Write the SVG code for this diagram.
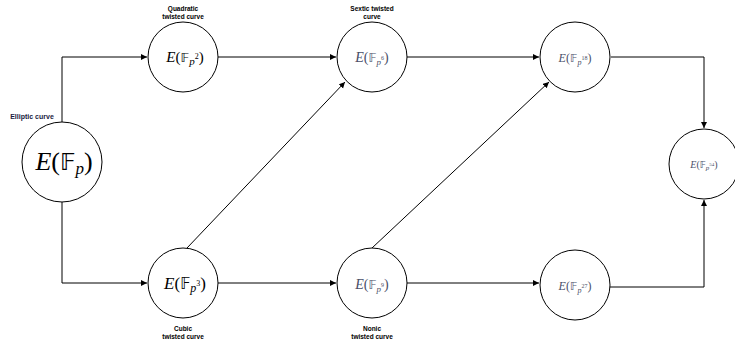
<svg xmlns="http://www.w3.org/2000/svg" width="735" height="346" viewBox="0 0 735 346">
<style>
.n{fill:#fff;stroke:#000;stroke-width:1}
.c{fill:none;stroke:#000;stroke-width:1}
.lbl{font-family:"Liberation Sans",Arial,sans-serif;font-size:6.5px;font-weight:bold;fill:#000;text-anchor:middle}
.m{font-family:"Liberation Serif","DejaVu Serif",serif;text-anchor:middle}
.g{fill:#4a5068}
.it{font-style:italic}
.bb{font-family:"DejaVu Sans",serif}
</style>
<defs>
<marker id="a" markerWidth="8" markerHeight="8" refX="6" refY="3" orient="auto" markerUnits="userSpaceOnUse">
<path d="M0,0 L6,3 L0,6 Z" fill="#000"/>
</marker>
</defs>
<rect width="735" height="346" fill="#fff"/>
<g id="connectors">
<path class="c" d="M62,122 V57 H147" marker-end="url(#a)"/>
<path class="c" d="M62,202 V283 H147" marker-end="url(#a)"/>
<path class="c" d="M218,57 H336" marker-end="url(#a)"/>
<path class="c" d="M218,283 H336" marker-end="url(#a)"/>
<path class="c" d="M187,248 L345,82" marker-end="url(#a)"/>
<path class="c" d="M372,248 L549,82" marker-end="url(#a)"/>
<path class="c" d="M407,57 H539" marker-end="url(#a)"/>
<path class="c" d="M407,283 H539" marker-end="url(#a)"/>
<path class="c" d="M611,57 H704 V128" marker-end="url(#a)"/>
<path class="c" d="M610,287 H704 V200" marker-end="url(#a)"/>
</g>
<g id="n_fp">
<circle class="n" cx="62" cy="162" r="40"/>
<text class="m" x="64" y="170" font-size="26"><tspan class="it">E</tspan>(<tspan class="bb" font-size="23">𝔽</tspan><tspan class="it" font-size="17" dy="4">p</tspan><tspan dy="-4">)</tspan></text>
<text class="lbl" x="32" y="119" style="fill:#1a1a40;font-size:7px">Elliptic curve</text>
</g>
<g id="n_fp2">
<circle class="n" cx="183" cy="57" r="35"/>
<text class="m" x="185" y="62" font-size="15"><tspan class="it">E</tspan>(<tspan class="bb" font-size="13">𝔽</tspan><tspan class="it" font-size="11" dy="3">p</tspan><tspan font-size="8" dy="-6">2</tspan><tspan dy="3">)</tspan></text>
<text class="lbl" x="183" y="11">Quadratic</text>
<text class="lbl" x="183" y="19">twisted curve</text>
</g>
<g id="n_fp3">
<circle class="n" cx="183" cy="283" r="35"/>
<text class="m" x="185" y="289" font-size="17"><tspan class="it">E</tspan>(<tspan class="bb" font-size="15">𝔽</tspan><tspan class="it" font-size="12" dy="3">p</tspan><tspan font-size="8" dy="-6">3</tspan><tspan dy="3">)</tspan></text>
<text class="lbl" x="183" y="331">Cubic</text>
<text class="lbl" x="183" y="339">twisted curve</text>
</g>
<g id="n_fp6">
<circle class="n" cx="372" cy="57" r="35"/>
<text class="m g" x="372" y="62" font-size="14"><tspan class="it">E</tspan>(<tspan class="bb" font-size="12">𝔽</tspan><tspan class="it" font-size="9" dy="3">p</tspan><tspan font-size="6" dy="-5">6</tspan><tspan dy="2">)</tspan></text>
<text class="lbl" x="372" y="11">Sextic twisted</text>
<text class="lbl" x="372" y="19">curve</text>
</g>
<g id="n_fp9">
<circle class="n" cx="372" cy="283" r="35"/>
<text class="m g" x="372" y="289" font-size="14"><tspan class="it">E</tspan>(<tspan class="bb" font-size="12">𝔽</tspan><tspan class="it" font-size="9" dy="3">p</tspan><tspan font-size="6" dy="-5">9</tspan><tspan dy="2">)</tspan></text>
<text class="lbl" x="372" y="331">Nonic</text>
<text class="lbl" x="372" y="339">twisted curve</text>
</g>
<g id="n_fp18">
<circle class="n" cx="575" cy="57" r="35"/>
<text class="m g" x="575" y="62" font-size="12"><tspan class="it">E</tspan>(<tspan class="bb" font-size="11">𝔽</tspan><tspan class="it" font-size="8" dy="3">p</tspan><tspan font-size="6" dy="-5">18</tspan><tspan dy="2">)</tspan></text>
</g>
<g id="n_fp27">
<circle class="n" cx="575" cy="285" r="35"/>
<text class="m g" x="575" y="290" font-size="12"><tspan class="it">E</tspan>(<tspan class="bb" font-size="11">𝔽</tspan><tspan class="it" font-size="8" dy="3">p</tspan><tspan font-size="6" dy="-5">27</tspan><tspan dy="2">)</tspan></text>
</g>
<g id="n_fp54">
<circle class="n" cx="704" cy="164" r="35"/>
<text class="m g" x="704" y="168" font-size="10"><tspan class="it">E</tspan>(<tspan class="bb" font-size="9">𝔽</tspan><tspan class="it" font-size="7" dy="2">p</tspan><tspan font-size="5" dy="-4">54</tspan><tspan dy="2">)</tspan></text>
</g>
</svg>
